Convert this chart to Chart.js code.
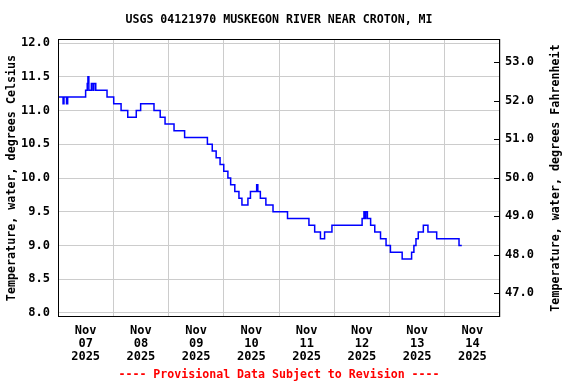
<!DOCTYPE html>
<html>
<head>
<meta charset="utf-8">
<script src="https://cdn.jsdelivr.net/npm/chart.js@4.4.1/dist/chart.umd.min.js"></script>
<style>
    html, body { margin: 0; padding: 0; background: #fff; }
</style>
</head>
<body>
<canvas id="grafico-temperatura" width="576" height="384"></canvas>
<script>
// Ore dall'inizio del 7 nov 00:00 (punti di cambio valore)
const ore = [
    0, 2.2, 2.6, 3.7, 4.2, 12.0, 12.7, 13.0, 13.4, 14.5, 15.2, 15.6, 16.4,
    21.3, 24.2, 27.4, 30.3, 34.0, 35.9, 41.7, 44.4, 46.5, 50.4, 55.0,
    64.9, 67.0, 68.7, 70.4, 72.0, 73.8, 75.0, 76.8, 78.6, 79.9, 82.5, 83.6,
    86.3, 86.8, 87.9, 90.3, 93.4, 99.7, 109.0, 111.5, 114.0, 115.8, 119.0,
    132.1, 132.9, 133.4, 133.7, 134.4, 135.8, 137.6, 140.1, 142.5, 144.4,
    149.5, 153.6, 154.6, 155.5, 156.5, 158.7, 160.7, 164.5, 174.2, 175.4
];
// Temperatura dell'acqua, gradi Celsius
const temperature = [
    11.2, 11.1, 11.2, 11.1, 11.2, 11.3, 11.4, 11.5, 11.3, 11.4, 11.3, 11.4, 11.3,
    11.2, 11.1, 11.0, 10.9, 11.0, 11.1, 11.0, 10.9, 10.8, 10.7, 10.6,
    10.5, 10.4, 10.3, 10.2, 10.1, 10.0, 9.9, 9.8, 9.7, 9.6, 9.7, 9.8,
    9.9, 9.8, 9.7, 9.6, 9.5, 9.4, 9.3, 9.2, 9.1, 9.2, 9.3,
    9.4, 9.5, 9.4, 9.5, 9.4, 9.3, 9.2, 9.1, 9.0, 8.9,
    8.8, 8.9, 9.0, 9.1, 9.2, 9.3, 9.2, 9.1, 9.0, 9.0
];
const giorni = ['07', '08', '09', '10', '11', '12', '13', '14'];
const tickCelsius = [8.0, 8.5, 9.0, 9.5, 10.0, 10.5, 11.0, 11.5, 12.0];
const tickFahrenheit = [47, 48, 49, 50, 51, 52, 53];

const FONT = 'DejaVu Sans Mono';
const punti = ore.map((h, i) => ({ x: h, y: temperature[i] }));

// Titoli, cornice e tacche interne disegnati a mano
const extra = {
    id: 'extra',
    afterDraw(chart) {
        const c = chart.ctx;
        const area = chart.chartArea;
        const centroX = (area.left + area.right) / 2;
        const centroY = (area.top + area.bottom) / 2;
        c.save();

        // cornice
        c.strokeStyle = '#000';
        c.lineWidth = 1;
        c.strokeRect(area.left + 0.5, area.top + 0.5, area.right - area.left - 1, area.bottom - area.top - 1);

        // tacche interne asse destro
        const yF = chart.scales.yF;
        yF.ticks.forEach(t => {
            const y = Math.round(yF.getPixelForValue(t.value)) + 0.5;
            c.beginPath();
            c.moveTo(area.right - 6, y);
            c.lineTo(area.right, y);
            c.stroke();
        });

        c.fillStyle = '#000';
        c.font = 'bold 11.6px "' + FONT + '"';
        c.textAlign = 'center';
        c.textBaseline = 'middle';
        c.fillText('USGS 04121970 MUSKEGON RIVER NEAR CROTON, MI', centroX, 20);

        c.font = 'bold 11.7px "' + FONT + '"';
        c.save();
        c.translate(12, centroY);
        c.rotate(-Math.PI / 2);
        c.fillText('Temperature, water, degrees Celsius', 0, 0);
        c.restore();

        c.save();
        c.translate(556, centroY);
        c.rotate(-Math.PI / 2);
        c.fillText('Temperature, water, degrees Fahrenheit', 0, 0);
        c.restore();

        c.fillStyle = '#ff0000';
        c.font = 'bold 11.6px "' + FONT + '"';
        c.fillText('---- Provisional Data Subject to Revision ----', centroX, 375);

        c.restore();
    }
};

const ctx = document.getElementById('grafico-temperatura').getContext('2d');
const grafico = new Chart(ctx, {
    type: 'line',
    data: {
        datasets: [{
            data: punti,
            borderColor: '#0000ff',
            borderWidth: 1.5,
            pointRadius: 0,
            stepped: 'before',
            fill: false
        }]
    },
    options: {
        responsive: false,
        animation: false,
        devicePixelRatio: 1,
        layout: { padding: { top: 39, left: 0, right: 0, bottom: 0 } },
        plugins: {
            legend: { display: false },
            tooltip: { enabled: false }
        },
        scales: {
            x: {
                type: 'linear',
                min: 0,
                max: 192,
                afterBuildTicks: s => {
                    s.ticks = [];
                    for (let h = 0; h <= 192; h += 12) s.ticks.push({ value: h });
                },
                afterFit: s => { s.height = 67; },
                border: { display: false },
                grid: {
                    drawTicks: false,
                    color: c => (c.tick && c.tick.value % 24 === 0) ? '#cccccc' : 'rgba(0,0,0,0)'
                },
                ticks: {
                    autoSkip: false,
                    maxRotation: 0,
                    padding: 7,
                    color: '#000',
                    font: { family: FONT, size: 12, weight: 'bold', lineHeight: '13px' },
                    callback: v => {
                        if (v % 24 !== 12) return '';
                        const g = giorni[Math.floor(v / 24)];
                        return g ? ['Nov', g, '2025'] : '';
                    }
                }
            },
            y: {
                position: 'left',
                min: 7.94,
                max: 12.06,
                afterBuildTicks: s => { s.ticks = tickCelsius.map(v => ({ value: v })); },
                afterFit: s => { s.width = 58; },
                border: { display: false },
                grid: { drawTicks: false, color: '#cccccc' },
                ticks: {
                    padding: 8,
                    color: '#000',
                    font: { family: FONT, size: 12, weight: 'bold' },
                    callback: v => v.toFixed(1)
                }
            },
            yF: {
                position: 'right',
                min: 46.384,
                max: 53.605,
                afterBuildTicks: s => { s.ticks = tickFahrenheit.map(v => ({ value: v })); },
                afterFit: s => { s.width = 76; },
                border: { display: false },
                grid: { drawTicks: false, drawOnChartArea: false },
                ticks: {
                    padding: 5,
                    color: '#000',
                    font: { family: FONT, size: 12, weight: 'bold' },
                    callback: v => v.toFixed(1)
                }
            }
        }
    },
    plugins: [extra]
});
</script>
</body>
</html>
